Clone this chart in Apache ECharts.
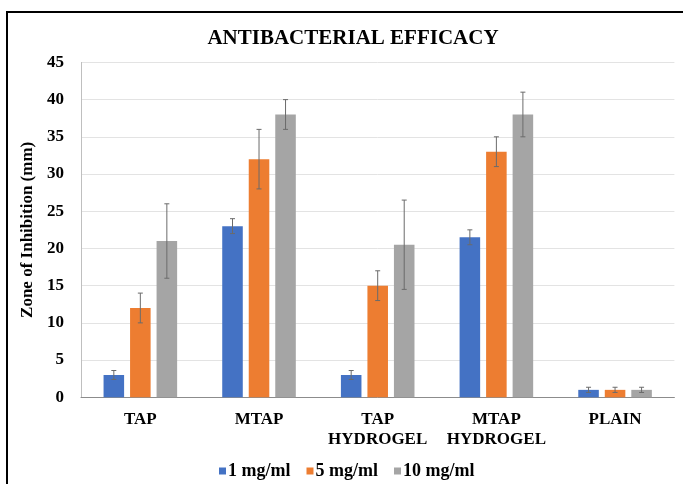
<!DOCTYPE html>
<html>
<head>
<meta charset="utf-8">
<style>
html,body{margin:0;padding:0;background:#fff;}
#chart{width:683px;height:484px;}
</style>
<script src="https://cdn.jsdelivr.net/npm/echarts@6/dist/echarts.min.js"></script>
</head>
<body>
<div id="chart"></div>
<script>
const categories = ['TAP', 'MTAP', 'TAP\nHYDROGEL', 'MTAP\nHYDROGEL', 'PLAIN'];
const seriesNames = ['1 mg/ml', '5 mg/ml', '10 mg/ml'];
const values1 = [3, 23, 3, 21.5, 1];
const values5 = [12, 32, 15, 33, 1];
const values10 = [21, 38, 20.5, 38, 1];
const err1 = [0.6, 1, 0.6, 1, 0.35];
const err5 = [2, 4, 2, 2, 0.35];
const err10 = [5, 2, 6, 3, 0.35];
const colors = ['#4472C4', '#ED7D31', '#A5A5A5'];

const allValues = [values1, values5, values10];
const allErr = [err1, err5, err10];
const FONT = '"Liberation Serif", "Times New Roman", serif';
const catGap = 0.38, barGap = 0.29;

const chart = echarts.init(document.getElementById('chart'));

const barSeries = seriesNames.map((n, i) => ({
  name: n, type: 'bar', data: allValues[i],
  itemStyle: { color: colors[i] },
  barCategoryGap: (catGap * 100) + '%', barGap: (barGap * 100) + '%',
  z: 2
}));

const errSeries = seriesNames.map((n, i) => ({
  name: n + ' err', type: 'custom', z: 5,
  data: allValues[i].map((v, k) => [k, v - allErr[i][k], v + allErr[i][k]]),
  encode: { x: 0, y: [1, 2] },
  renderItem: function (params, api) {
    const band = api.size([1, 0])[0];
    const bw = band * (1 - catGap) / (3 + 2 * barGap);
    const offset = (i - 1) * bw * (1 + barGap);
    const lo = api.coord([api.value(0), api.value(1)]);
    const hi = api.coord([api.value(0), api.value(2)]);
    const x = lo[0] + offset;
    const c = 2.5;
    const st = { stroke: '#6b6b6b', lineWidth: 1 };
    return {
      type: 'group', children: [
        { type: 'line', shape: { x1: x, y1: lo[1], x2: x, y2: hi[1] }, style: st },
        { type: 'line', shape: { x1: x - c, y1: lo[1], x2: x + c, y2: lo[1] }, style: st },
        { type: 'line', shape: { x1: x - c, y1: hi[1], x2: x + c, y2: hi[1] }, style: st }
      ]
    };
  }
}));

chart.setOption({
  backgroundColor: '#fff',
  animation: false,
  title: {
    text: 'ANTIBACTERIAL EFFICACY', left: 348, textAlign: 'center', top: 23,
    textStyle: { fontFamily: FONT, fontWeight: 'bold', fontSize: 21, color: '#000' }
  },
  legend: {
    data: seriesNames, left: 214, top: 457, icon: 'rect', itemWidth: 7, itemHeight: 7,
    itemGap: 16,
    textStyle: { fontFamily: FONT, fontWeight: 'bold', fontSize: 18, color: '#000', padding: [0, 0, 0, -3] }
  },
  grid: { left: 81, right: 8.6, top: 62.4, bottom: 86.7, containLabel: false },
  xAxis: {
    type: 'category', data: categories,
    axisLine: { lineStyle: { color: '#8c8c8c', width: 1 } },
    axisTick: { show: false },
    axisLabel: { interval: 0, fontFamily: FONT, fontWeight: 'bold', fontSize: 17, color: '#000', margin: 12, lineHeight: 20 }
  },
  yAxis: {
    type: 'value', min: 0, max: 45, interval: 5,
    name: 'Zone of Inhibition (mm)', nameLocation: 'middle', nameGap: 40,
    nameTextStyle: { fontFamily: FONT, fontWeight: 'bold', fontSize: 17, color: '#000' },
    axisLine: { show: true, lineStyle: { color: '#bfbfbf' } },
    axisTick: { show: false },
    splitLine: { lineStyle: { color: '#e3e3e3' } },
    axisLabel: { fontFamily: FONT, fontWeight: 'bold', fontSize: 17, color: '#000', margin: 17 }
  },
  graphic: [{
    type: 'rect', shape: { x: 7, y: 12, width: 700, height: 500 },
    style: { fill: null, stroke: '#000', lineWidth: 2 }, z: 100, silent: true
  }],
  series: barSeries.concat(errSeries)
});
</script>
</body>
</html>
